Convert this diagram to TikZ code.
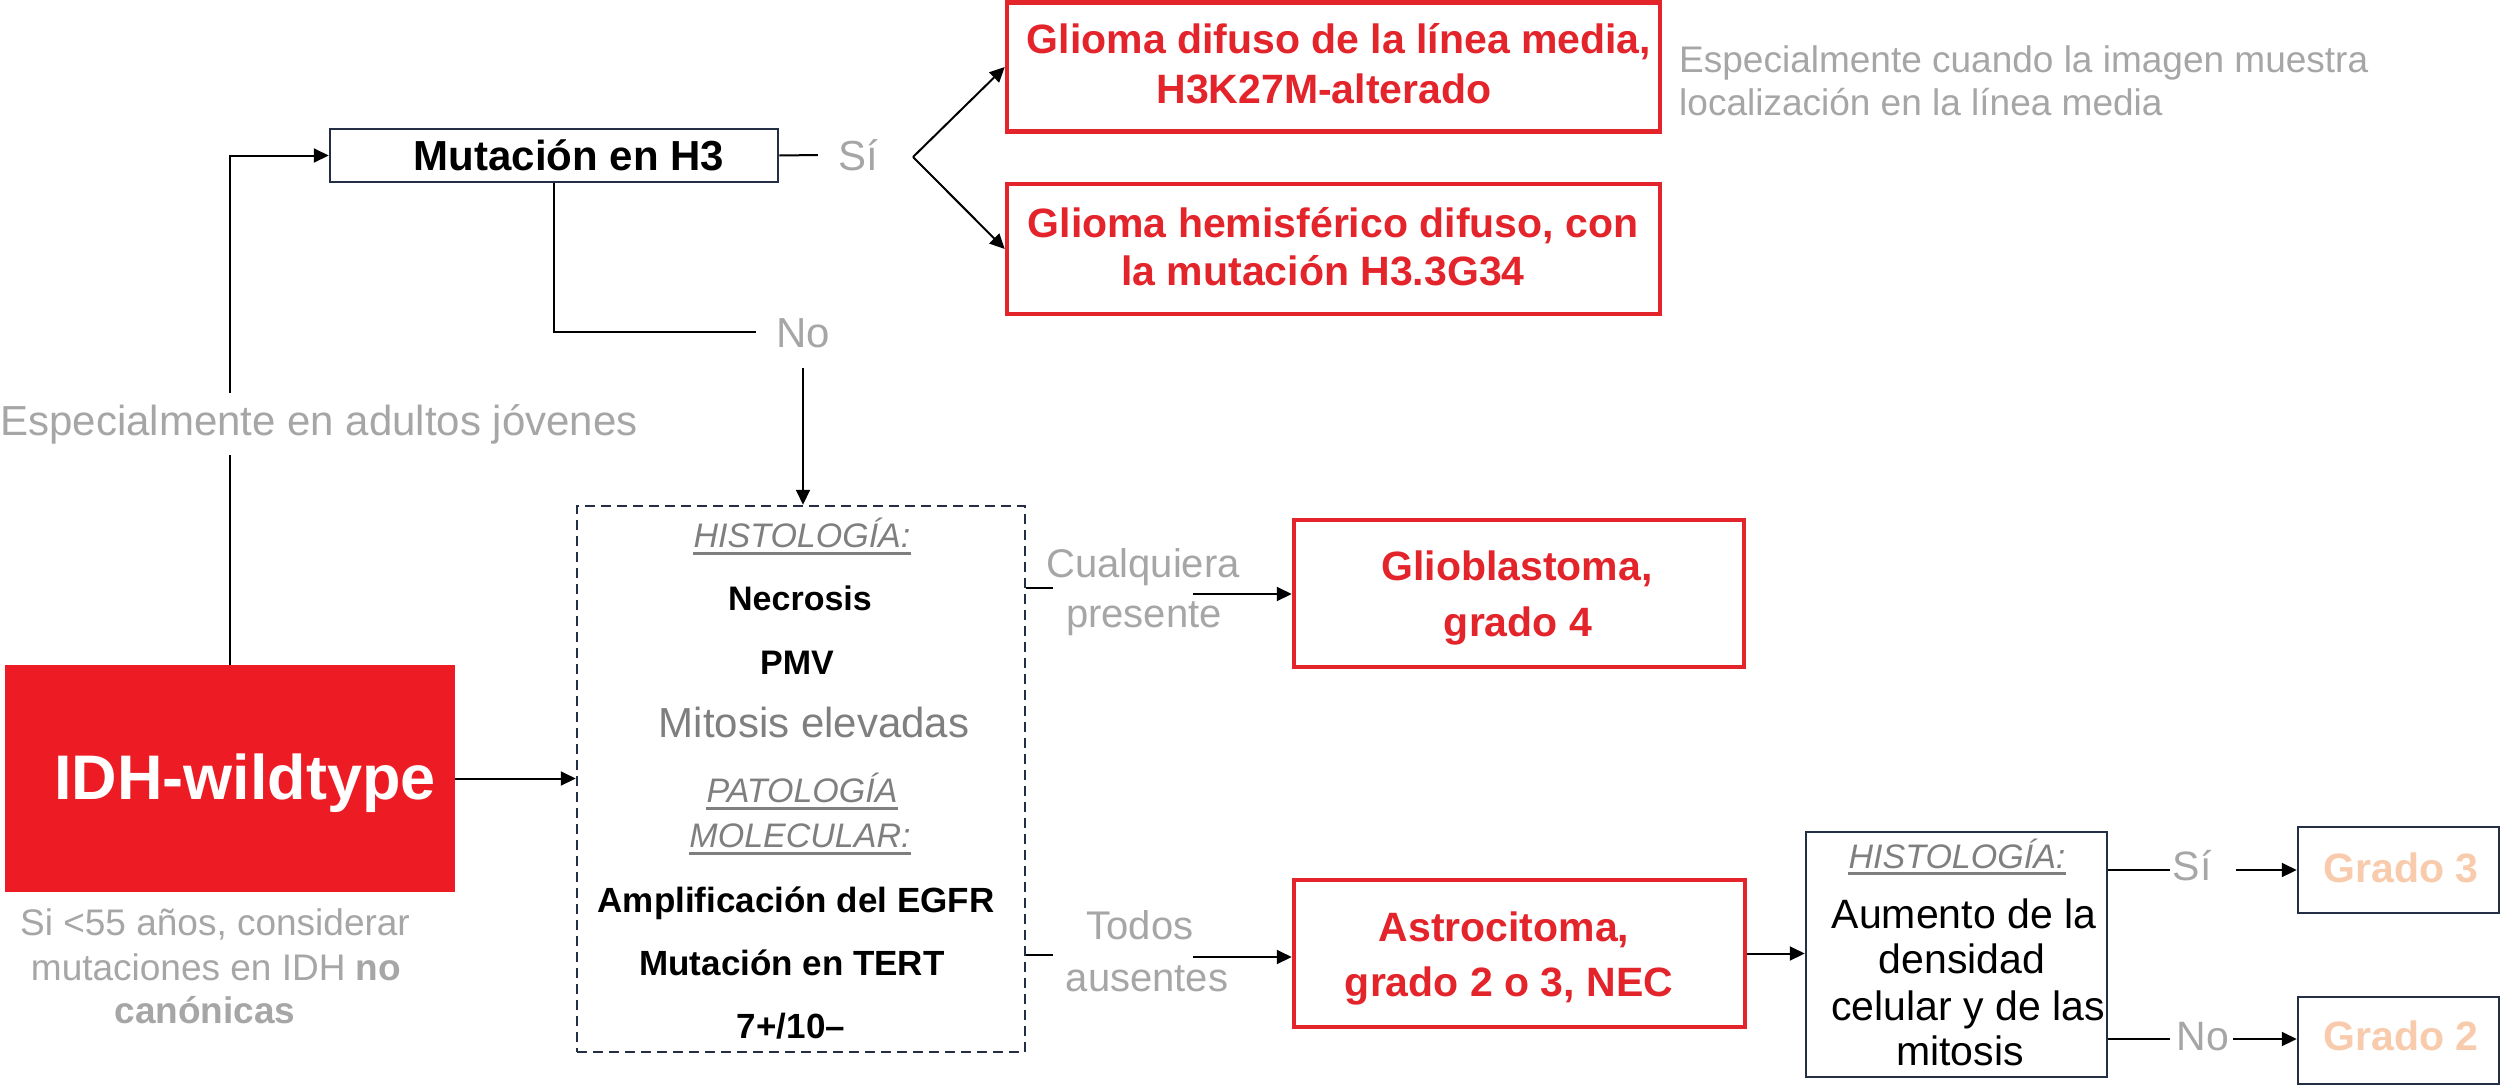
\documentclass[tikz,border=0pt]{standalone}
\usepackage{fontspec}
\setmainfont{Liberation Sans}
\usetikzlibrary{arrows.meta,calc}
\definecolor{myred}{HTML}{E3242B}
\definecolor{redfillc}{HTML}{ED1C24}
\definecolor{lgray}{HTML}{A6A6A6}
\definecolor{mgray}{HTML}{7F7F7F}
\definecolor{navy}{HTML}{222F45}
\definecolor{peach}{HTML}{F8CBAD}
\newcommand\myfs[1]{\fontsize{#1pt}{#1pt}\selectfont}
\begin{document}
\begin{tikzpicture}[x=1pt,y=-1pt,
  t/.style={inner sep=0pt, anchor=base},
  redbox/.style={draw=myred, line width=4.5pt, inner sep=0pt},
  navybox/.style={draw=navy, line width=2.5pt, inner sep=0pt},
  dashbox/.style={draw=navy, line width=2.5pt, dash pattern=on 10pt off 6pt, inner sep=0pt},
  redfill/.style={fill=redfillc, inner sep=0pt},
  conn/.style={draw=black, line width=2pt},
  arr/.style={conn, -{Triangle[length=15pt,width=14pt]}},
  ul/.style={draw=mgray, line width=3pt},
  lbl/.style={inner sep=0pt, text height=30pt, text depth=0pt, text=lgray, font=\myfs{42}},
  redtxt/.style={t, font=\myfs{41}\bfseries, text=myred},
  histt/.style={t, font=\myfs{34}\itshape, text=mgray},
  blk/.style={t, font=\myfs{34}\bfseries, text=black},
  grytxt/.style={t, font=\myfs{40}, text=lgray}
]
\fill[white] (0,0) rectangle (2500,1085);
\useasboundingbox (0,0) rectangle (2500,1085);

% ---- boxes ----
\node[navybox, minimum width=448pt, minimum height=53pt] (mut) at (554,155.5) {};
\node[t, font=\myfs{42}\bfseries] (mutt) at (569,170) {Mutación en H3};

\node[redbox, minimum width=653pt, minimum height=129pt] (g1) at (1333.5,67) {};
\node[redtxt] (g1a) at (1339,53) {Glioma difuso de la línea media,};
\node[redtxt] (g1b) at (1324,103) {H3K27M-alterado};

\node[redbox, minimum width=653pt, minimum height=130pt] (g2) at (1333.5,249) {};
\node[redtxt] (g2a) at (1333,237) {Glioma hemisférico difuso, con};
\node[redtxt] (g2b) at (1323,285) {la mutación H3.3G34};

\node[t, anchor=base west, font=\myfs{37}, text=lgray] (nt1) at (1679,72) {Especialmente cuando la imagen muestra};
\node[t, anchor=base west, font=\myfs{37}, text=lgray] (nt2) at (1679,115) {localización en la línea media};

\node[redfill, minimum width=450pt, minimum height=227pt] (idh) at (230,778.5) {};
\node[t, font=\myfs{63}\bfseries, text=white] (idht) at (245,799) {IDH-wildtype};

\node[t, font=\myfs{37}, text=lgray] (si1) at (215,935) {Si <55 años, considerar};
\node[t, font=\myfs{37}, text=lgray] (si2) at (216,980) {mutaciones en IDH \textbf{no}};
\node[t, font=\myfs{37}\bfseries, text=lgray] (si3) at (205,1023) {canónicas};

\node[dashbox, minimum width=448pt, minimum height=546pt] (hist) at (801,779) {};
\node[histt] (h1) at (802,547) {HISTOLOGÍA:};
\draw[ul] ($(h1.base west)+(0,6)$) -- ($(h1.base east)+(0,6)$);
\node[blk] (h2) at (800,610) {Necrosis};
\node[blk] (h3) at (797,674) {PMV};
\node[t, font=\myfs{42}, text=mgray] (h4) at (814,737) {Mitosis elevadas};
\node[histt] (h5) at (802,802) {PATOLOGÍA};
\draw[ul] ($(h5.base west)+(0,6)$) -- ($(h5.base east)+(0,6)$);
\node[histt] (h6) at (800,847) {MOLECULAR:};
\draw[ul] ($(h6.base west)+(0,6)$) -- ($(h6.base east)+(0,6)$);
\node[t, font=\myfs{35}\bfseries] (h7) at (796,912) {Amplificación del EGFR};
\node[t, font=\myfs{35}\bfseries] (h8) at (792,975) {Mutación en TERT};
\node[t, font=\myfs{35}\bfseries] (h9) at (791,1038) {7+/10–};

\node[redbox, minimum width=450pt, minimum height=147pt] (glio) at (1519,593.5) {};
\node[redtxt] (glioa) at (1517,580) {Glioblastoma,};
\node[redtxt] (gliob) at (1518,636) {grado 4};

\node[redbox, minimum width=451pt, minimum height=147pt] (astro) at (1519.5,953.5) {};
\node[redtxt] (astroa) at (1504,941) {Astrocitoma,};
\node[redtxt] (astrob) at (1509,996) {grado 2 o 3, NEC};

\node[grytxt] (cq1) at (1143,577) {Cualquiera};
\node[grytxt] (cq2) at (1144,627) {presente};
\node[grytxt] (td1) at (1140,939) {Todos};
\node[grytxt] (td2) at (1147,991) {ausentes};

\node[navybox, minimum width=301pt, minimum height=245pt] (hist2) at (1956.5,954.5) {};
\node[histt] (k1) at (1957,868) {HISTOLOGÍA:};
\draw[ul] ($(k1.base west)+(0,5)$) -- ($(k1.base east)+(0,5)$);
\node[t, font=\myfs{41}] (k2) at (1964,928) {Aumento de la};
\node[t, font=\myfs{41}] (k3) at (1962,973) {densidad};
\node[t, font=\myfs{41}] (k4) at (1968,1020) {celular y de las};
\node[t, font=\myfs{41}] (k5) at (1960,1065) {mitosis};

\node[navybox, minimum width=201pt, minimum height=86pt] (gr3) at (2398.5,870) {};
\node[t, font=\myfs{41}\bfseries, text=peach] (gr3t) at (2401,882) {Grado 3};
\node[navybox, minimum width=201pt, minimum height=87pt] (gr2) at (2398.5,1040.5) {};
\node[t, font=\myfs{41}\bfseries, text=peach] (gr2t) at (2401,1050) {Grado 2};

% ---- labels on connectors ----
\node[lbl, anchor=base, inner xsep=20pt] (sitop) at (858,170) {Sí};
\node[lbl, anchor=base, inner xsep=20pt, inner ysep=21pt] (notop) at (803,347) {No};
\node[lbl, font=\myfs{41}, anchor=base] (sib) at (2192,880) {Sí};
\node[lbl, font=\myfs{41}, anchor=base] (nob) at (2203,1050) {No};

% ---- coordinates for free ends ----
\coordinate (apex) at (913,157);
\coordinate (c1) at (1053,588);
\coordinate (c2) at (1193,594);
\coordinate (d1) at (1053,955);
\coordinate (d2) at (1193,957);
\coordinate (s1) at (2170,870);
\coordinate (s2) at (2236,870);
\coordinate (n1) at (2170,1039);
\coordinate (n2) at (2233,1039);

% ---- connectors ----
\draw[conn] (mut.east) -- (sitop.west);
\draw[arr] (apex) -- (g1.west);
\draw[arr] (apex) -- (g2.west);
\draw[conn] (mut.south) |- (notop.west);
\draw[arr] (notop.south) -- (notop.south |- hist.north);
\draw[arr] (idh.north) |- (mut.west);
\node[t, font=\myfs{42}, text=lgray, fill=white, inner xsep=0pt, inner ysep=11pt, text height=31pt, text depth=9pt] (esp) at (319,435) {Especialmente en adultos jóvenes};
\draw[arr] (idh.east) -- (idh.east -| hist.west);
\draw[conn] (hist.east |- c1) -- (c1);
\draw[arr] (c2) -- (c2 -| glio.west);
\draw[conn] (hist.east |- d1) -- (d1);
\draw[arr] (d2) -- (d2 -| astro.west);
\draw[arr] (astro.east) -- (astro.east -| hist2.west);
\draw[conn] (hist2.east |- s1) -- (s1);
\draw[arr] (s2) -- (s2 -| gr3.west);
\draw[conn] (hist2.east |- n1) -- (n1);
\draw[arr] (n2) -- (n2 -| gr2.west);
\end{tikzpicture}
\end{document}
